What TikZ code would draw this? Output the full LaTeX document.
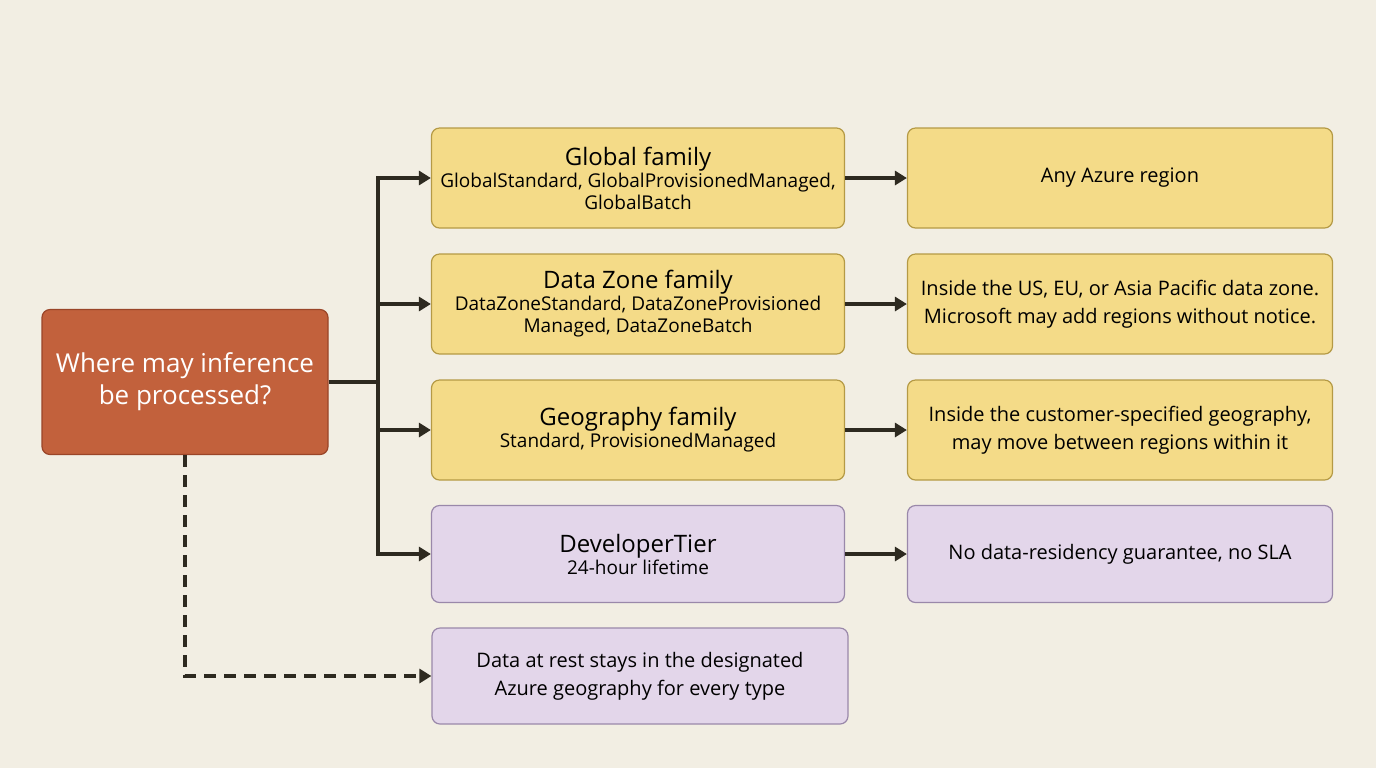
\documentclass[tikz,border=0pt]{standalone}
\usepackage{fontspec}
\setmainfont{Open Sans}
\usetikzlibrary{arrows.meta,positioning}
\definecolor{bgc}{HTML}{F2EEE3}
\definecolor{rootc}{HTML}{C2613C}
\definecolor{rootb}{HTML}{9A4528}
\definecolor{yelc}{HTML}{F4DB88}
\definecolor{yelb}{HTML}{B59A45}
\definecolor{lavc}{HTML}{E3D6EA}
\definecolor{lavb}{HTML}{9A88AA}
\definecolor{linec}{HTML}{2E2A20}
\tikzset{every picture/.style={line width=0.75pt}}
\begin{document}
\begin{tikzpicture}[x=0.5pt,y=-0.5pt,
  box/.style={draw, rounded corners=4pt, align=center, inner sep=0pt, line width=0.6pt},
  yel/.style={box, fill=yelc, draw=yelb},
  lav/.style={box, fill=lavc, draw=lavb},
  mid/.style={minimum width=206.5pt, minimum height=50pt},
  rgt/.style={minimum width=212.5pt, minimum height=50pt}]
\tikzset{arr/.style={draw=linec, line width=2pt, -{Triangle[length=6pt,width=7pt]}}}
\fill[bgc] (0,0) rectangle (1376,768);
\useasboundingbox (0,0) rectangle (1376,768);

% root
\node[box, fill=rootc, draw=rootb, text=white, minimum width=143pt, minimum height=72.5pt,
  font=\fontsize{13}{16}\selectfont] (root) at (185,382) {Where may inference\\be processed?};

% middle column
\node[yel, mid] (glob) at (638,178) {{\fontsize{12}{15}\selectfont Global family}\\[-1pt]
  {\fontsize{9.5}{13}\selectfont GlobalStandard, GlobalProvisionedManaged,}\\[-1pt]
  {\fontsize{9.5}{13}\selectfont GlobalBatch}};
\node[yel, mid] (dz) at (638,304) {{\fontsize{12}{15}\selectfont Data Zone family}\\[-1pt]
  {\fontsize{9.5}{13}\selectfont DataZoneStandard, DataZoneProvisioned}\\[-1pt]
  {\fontsize{9.5}{13}\selectfont Managed, DataZoneBatch}};
\node[yel, mid] (geo) at (638,430) {{\fontsize{12}{15}\selectfont Geography family}\\[-1pt]
  {\fontsize{9.5}{13}\selectfont Standard, ProvisionedManaged}};
\node[lav, mid, minimum height=48.5pt] (dev) at (638,554) {{\fontsize{12}{15}\selectfont DeveloperTier}\\[-1pt]
  {\fontsize{9.5}{13}\selectfont 24-hour lifetime}};
\node[lav, minimum width=208pt, minimum height=48pt, font=\fontsize{10}{14}\selectfont] (rest) at (640,676)
  {Data at rest stays in the designated\\Azure geography for every type};

% right column
\node[yel, rgt, font=\fontsize{10}{14}\selectfont] (anyr) at (1120,178) {Any Azure region};
\node[yel, rgt, font=\fontsize{10}{14}\selectfont] (dzr) at (1120,304)
  {Inside the US, EU, or Asia Pacific data zone.\\Microsoft may add regions without notice.};
\node[yel, rgt, font=\fontsize{10}{14}\selectfont] (geor) at (1120,430)
  {Inside the customer-specified geography,\\may move between regions within it};
\node[lav, rgt, minimum height=48.5pt, font=\fontsize{10}{14}\selectfont] (devr) at (1120,554)
  {No data-residency guarantee, no SLA};

% connectors
\coordinate (j) at (378,382);
\draw[draw=linec, line width=2pt] (root.east) -- (j);
\foreach \t in {glob, dz, geo, dev} \draw[arr] (j) |- (\t.west);
\foreach \a/\b in {glob/anyr, dz/dzr, geo/geor, dev/devr} \draw[arr] (\a) -- (\b);
\draw[arr, dash pattern=on 6pt off 4pt] (root.south) |- (rest.west);
\end{tikzpicture}
\end{document}
